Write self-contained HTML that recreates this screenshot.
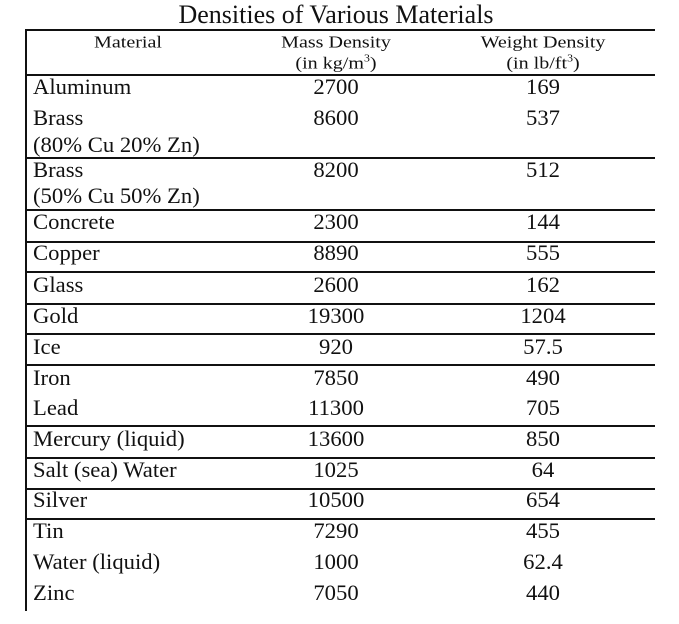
<!DOCTYPE html>
<html><head><meta charset="utf-8"><style>
body{margin:0;width:679px;height:624px;background:#fff;position:relative;overflow:hidden;font-family:"Liberation Serif",serif;color:#111}
.t{position:absolute;white-space:nowrap;line-height:1;transform:translateY(-50%) scaleX(1.03);transform-origin:left center}
.c{transform:translate(-50%,-50%) scaleX(1.03);transform-origin:center center}
.r{font-size:22px}
.h{font-size:17px;transform:translate(-50%,-50%) scaleX(1.18)}
.hl{position:absolute;left:25px;width:630px;height:1.5px;background:#111}
.vl{position:absolute;left:25px;top:29px;width:1.5px;height:582px;background:#111}
sup{font-size:10px;vertical-align:7px}
</style></head><body>
<div class="t c" style="left:336px;top:15px;font-size:26px;transform:translate(-50%,-50%)">Densities of Various Materials</div>
<div class="vl"></div>
<div id="lines"></div>
<div class="t c h" style="left:128px;top:42px">Material</div>
<div class="t c h" style="left:336px;top:42px">Mass Density</div>
<div class="t c h" style="left:336px;top:63px">(in kg/m<sup>3</sup>)</div>
<div class="t c h" style="left:543px;top:42px">Weight Density</div>
<div class="t c h" style="left:543px;top:63px">(in lb/ft<sup>3</sup>)</div>
<div id="rows"></div>
<script>
const lineYs=[29,74,157,209,241,271,303,333,364,425,457,488,518];
const names=["Aluminum","Brass","(80% Cu 20% Zn)","Brass","(50% Cu 50% Zn)","Concrete","Copper","Glass","Gold","Ice","Iron","Lead","Mercury (liquid)","Salt (sea) Water","Silver","Tin","Water (liquid)","Zinc"];
const mass=["2700","8600","","8200","","2300","8890","2600","19300","920","7850","11300","13600","1025","10500","7290","1000","7050"];
const weight=["169","537","","512","","144","555","162","1204","57.5","490","705","850","64","654","455","62.4","440"];
const rowYs=[87,118,145,170,196,222,253,285,316,347,378,408,439,470,500,531,562,593];
const L=document.getElementById('lines');
lineYs.forEach(y=>{const d=document.createElement('div');d.className='hl';d.style.top=y+'px';


L.appendChild(d);});
const R=document.getElementById('rows');
function add(txt,x,y,c,name){if(!txt)return;const d=document.createElement('div');d.className='t r'+(c?' c':'');d.style.left=x+'px';d.style.top=y+'px';d.textContent=txt;


R.appendChild(d);}
names.forEach((n,i)=>{add(n,33,rowYs[i],false,'material-name');add(mass[i],336,rowYs[i],true,'mass-density-value');add(weight[i],543,rowYs[i],true,'weight-density-value');});
</script>
</body></html>
